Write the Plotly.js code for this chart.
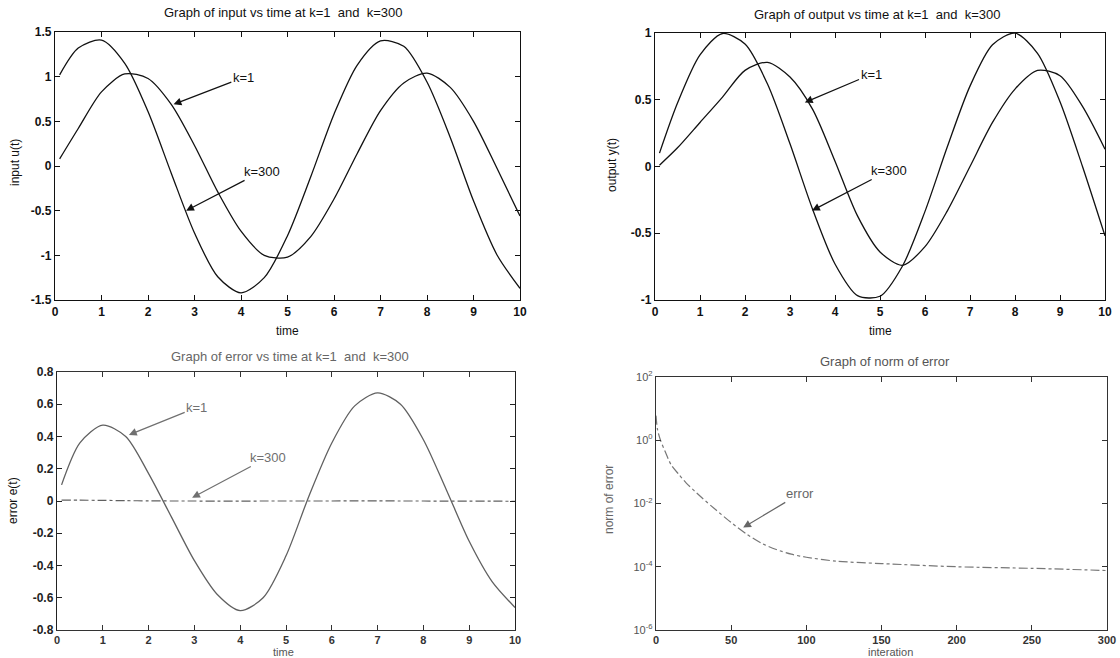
<!DOCTYPE html>
<html>
<head>
<meta charset="utf-8">
<script src="https://cdn.plot.ly/plotly-3.0.1.min.js"></script>
<style>html,body{margin:0;padding:0;background:#fff;}#chart{width:1120px;height:658px;}</style>
</head>
<body>
<div id="chart"></div>
<script>
// ---- data ----
const time = [0.1, 0.5, 1.0, 1.5, 2.0, 2.5, 3.0, 3.5, 4.0, 4.5, 5.0, 5.5, 6.0, 6.5, 7.0, 7.5, 8.0, 8.5, 9.0, 9.5, 10.0];

const inputK1   = [0.08, 0.42, 0.83, 1.03, 0.98, 0.69, 0.23, -0.29, -0.73, -1.00, -1.02, -0.79, -0.37, 0.14, 0.62, 0.93, 1.04, 0.88, 0.50, -0.02, -0.56];
const inputK300 = [1.02, 1.32, 1.41, 1.15, 0.61, -0.08, -0.75, -1.24, -1.42, -1.25, -0.78, -0.12, 0.58, 1.13, 1.40, 1.34, 0.94, 0.32, -0.39, -0.99, -1.37];

const outputK1   = [0.01, 0.14, 0.33, 0.52, 0.72, 0.78, 0.67, 0.43, 0.04, -0.37, -0.64, -0.74, -0.60, -0.33, 0.00, 0.33, 0.58, 0.72, 0.68, 0.45, 0.13];
const outputK300 = [0.10, 0.475, 0.836, 0.996, 0.917, 0.618, 0.170, -0.318, -0.730, -0.967, -0.972, -0.745, -0.336, 0.151, 0.602, 0.912, 0.999, 0.848, 0.485, 0.00, -0.52];

const errorK1   = [0.10, 0.36, 0.47, 0.40, 0.17, -0.10, -0.37, -0.58, -0.68, -0.60, -0.34, 0.03, 0.36, 0.59, 0.67, 0.60, 0.38, 0.07, -0.25, -0.50, -0.66];
const errorK300 = [0.006, 0.005, 0.004, 0.002, 0.001, 0.000, 0.000, -0.001, -0.001, 0.000, 0.000, 0.000, 0.000, 0.001, 0.001, 0.000, 0.000, -0.001, -0.001, -0.001, -0.002];

const iteration = [0, 1, 3, 6, 10, 15, 20, 30, 40, 50, 60, 70, 80, 90, 100, 120, 150, 200, 250, 300];
const normError = [6, 2.2, 1, 0.45, 0.17, 0.085, 0.045, 0.016, 0.0062, 0.0025, 0.0011, 0.00056, 0.00035, 0.00025, 0.0002, 0.00015, 0.000126, 0.0001, 0.000089, 0.000076];

// tick labels
const timeTicks = [0, 1, 2, 3, 4, 5, 6, 7, 8, 9, 10];
const inputTicks = [-1.5, -1, -0.5, 0, 0.5, 1, 1.5];
const inputTickText = ['-1.5', '-1', '-0.5', '0', '0.5', '1', '1.5'];
const outputTicks = [-1, -0.5, 0, 0.5, 1];
const outputTickText = ['-1', '-0.5', '0', '0.5', '1'];
const errorTicks = [-0.8, -0.6, -0.4, -0.2, 0, 0.2, 0.4, 0.6, 0.8];
const errorTickText = ['-0.8', '-0.6', '-0.4', '-0.2', '0', '0.2', '0.4', '0.6', '0.8'];
const iterTicks = [0, 50, 100, 150, 200, 250, 300];
const logTickVals = [1e-6, 1e-4, 1e-2, 1, 1e2];
const logTickText = ['10<sup>-6</sup>', '10<sup>-4</sup>', '10<sup>-2</sup>', '10<sup>0</sup>', '10<sup>2</sup>'];

const titles = {
  input: 'Graph of input vs time at k=1  and  k=300',
  output: 'Graph of output vs time at k=1  and  k=300',
  error: 'Graph of error vs time at k=1  and  k=300',
  norm: 'Graph of norm of error'
};

// ---- drawing ----
const W = 1120, H = 658;
const px = v => v / W;
const py = v => 1 - v / H;
const FONT = 'Liberation Sans, Arial, sans-serif';
const BLACK = '#111111';
const GREY = '#606060';

function line(x, y, xa, ya, color, dash, width) {
  return {x: x, y: y, xaxis: xa, yaxis: ya, type: 'scatter', mode: 'lines',
          line: {color: color, width: width || 1.3, dash: dash || 'solid', shape: 'spline', smoothing: 0.8},
          hoverinfo: 'skip', showlegend: false};
}

const traces = [
  line(time, inputK1, 'x', 'y', BLACK),
  line(time, inputK300, 'x', 'y', BLACK),
  line(time, outputK1, 'x2', 'y2', BLACK),
  line(time, outputK300, 'x2', 'y2', BLACK),
  line(time, errorK1, 'x3', 'y3', GREY),
  line(time, errorK300, 'x3', 'y3', GREY, 'dashdot', 1.2),
  line(iteration, normError, 'x4', 'y4', '#777777', 'dashdot', 1.2)
];

function axis(domain, range, vals, text, anchor, color, extra) {
  const a = {domain: domain, range: range, anchor: anchor,
    tickmode: 'array', tickvals: vals, ticktext: text || vals.map(String),
    showline: true, mirror: 'ticks', linecolor: color, linewidth: 1.2,
    ticks: 'inside', ticklen: 5, tickcolor: color, tickwidth: 1,
    showgrid: false, zeroline: false, fixedrange: true,
    tickfont: {family: FONT, size: 12, color: color, weight: 'bold'}};
  return Object.assign(a, extra || {});
}

const layout = {
  width: W, height: H,
  margin: {l: 0, r: 0, t: 0, b: 0},
  paper_bgcolor: '#ffffff', plot_bgcolor: '#ffffff',
  showlegend: false,
  xaxis:  axis([px(55), px(520)], [0, 10], timeTicks, null, 'y', BLACK),
  yaxis:  axis([py(300), py(32)], [-1.5, 1.5], inputTicks, inputTickText, 'x', BLACK),
  xaxis2: axis([px(655), px(1105)], [0, 10], timeTicks, null, 'y2', BLACK),
  yaxis2: axis([py(300), py(33)], [-1, 1], outputTicks, outputTickText, 'x2', BLACK),
  xaxis3: axis([px(57), px(515)], [0, 10], timeTicks, null, 'y3', '#333333',
               {tickfont: {family: FONT, size: 11, color: '#333333', weight: 'bold'}}),
  yaxis3: axis([py(630), py(372)], [-0.8, 0.8], errorTicks, errorTickText, 'x3', '#222222'),
  xaxis4: axis([px(656), px(1107)], [0, 300], iterTicks, null, 'y4', '#333333',
               {tickfont: {family: FONT, size: 11, color: '#333333', weight: 'bold'}}),
  yaxis4: axis([py(630), py(377)], [-6, 2], logTickVals, logTickText, 'x4', '#333333',
               {type: 'log', tickfont: {family: FONT, size: 11, color: '#555555'}}),
  annotations: []
};

const A = layout.annotations;
function text(t, x, y, size, color, extra) {
  A.push(Object.assign({text: t, x: px(x), y: py(y), xref: 'paper', yref: 'paper',
    showarrow: false, xanchor: 'center', yanchor: 'middle',
    font: {family: FONT, size: size, color: color}}, extra || {}));
}
// subplot titles
text(titles.input, 283, 13, 13, BLACK);
text(titles.output, 877, 14, 13, BLACK);
text(titles.error, 290, 356, 13, '#666666');
text(titles.norm, 885, 361, 13, '#555555');
// axis titles
text('time', 287, 331, 12, BLACK);
text('time', 880, 331, 12, BLACK);
text('time', 283, 652, 11, '#555555');
text('interation', 890, 652, 11, '#555555');
text('input u(t)', 15, 163, 12, BLACK, {textangle: -90});
text('output y(t)', 612, 165, 12, BLACK, {textangle: -90});
text('error e(t)', 13, 501, 12, BLACK, {textangle: -90});
text('norm of error', 609, 500, 12, '#666666', {textangle: -90});

function arrow(t, xa, ya, x, y, ax, ay, color) {
  A.push({text: t, xref: xa, yref: ya, axref: xa, ayref: ya, x: x, y: y, ax: ax, ay: ay,
    showarrow: true, arrowhead: 2, arrowsize: 1.3, arrowwidth: 1.2, arrowcolor: color,
    font: {family: FONT, size: 13, color: color}});
}
arrow('k=1', 'x', 'y', 2.55, 0.69, 4.05, 0.99, BLACK);
arrow('k=300', 'x', 'y', 2.82, -0.50, 4.45, -0.06, BLACK);
arrow('k=1', 'x2', 'y2', 3.33, 0.48, 4.8, 0.69, BLACK);
arrow('k=300', 'x2', 'y2', 3.49, -0.33, 5.2, -0.03, BLACK);
arrow('k=1', 'x3', 'y3', 1.57, 0.41, 3.05, 0.58, '#707070');
arrow('k=300', 'x3', 'y3', 2.95, 0.02, 4.6, 0.27, '#707070');
arrow('error', 'x4', 'y4', 58, -2.76, 96, -1.68, '#666666');

Plotly.newPlot('chart', traces, layout, {staticPlot: true, displayModeBar: false});
</script>
</body>
</html>
